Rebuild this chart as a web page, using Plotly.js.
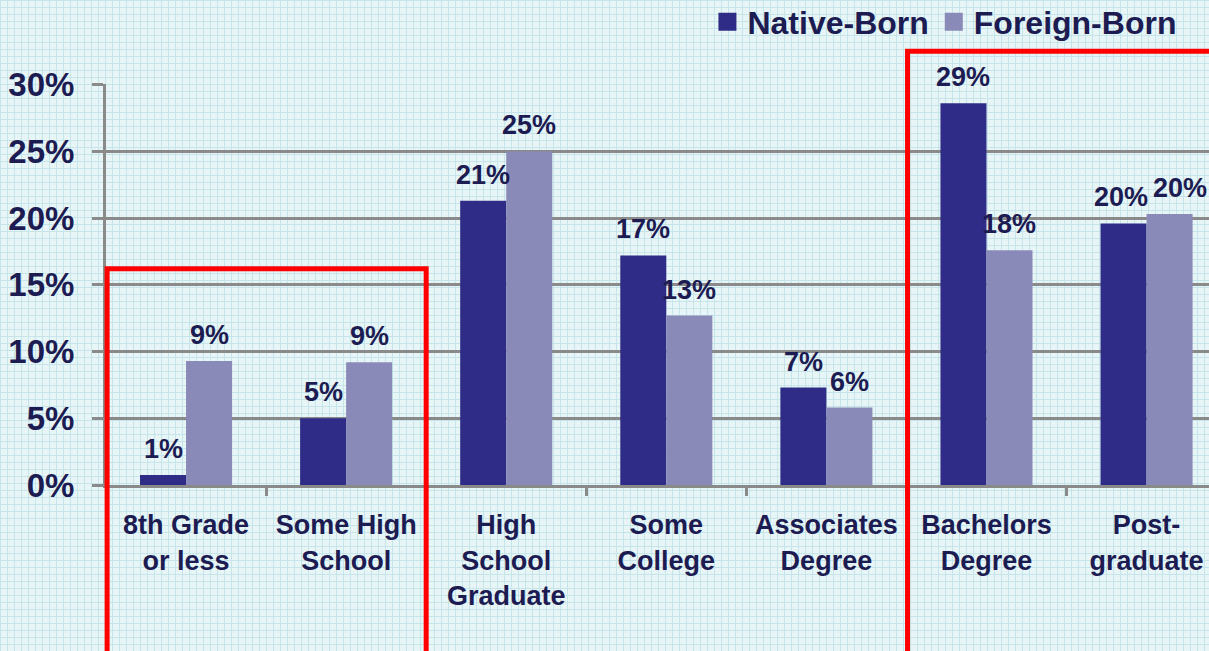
<!DOCTYPE html>
<html>
<head>
<meta charset="utf-8">
<script src="https://cdn.plot.ly/plotly-3.0.1.min.js"></script>
<style>
  html, body { margin:0; padding:0; }
  body {
    width:1209px; height:651px; overflow:hidden;
    background-color:#E7F5F7;
    background-image:
      linear-gradient(#C6E5EA 1px, transparent 1px),
      linear-gradient(90deg, #C6E5EA 1px, transparent 1px);
    background-size:7px 7px;
  }
  #chart { width:1209px; height:651px; }
</style>
</head>
<body>
<div id="chart"></div>
<script>
// ---- data ----
const categories = [
  "8th Grade<br>or less",
  "Some High<br>School",
  "High<br>School<br>Graduate",
  "Some<br>College",
  "Associates<br>Degree",
  "Bachelors<br>Degree",
  "Post-<br>graduate"
];
const nativeBorn  = [0.75, 5.0, 21.3, 17.2, 7.3, 28.6, 19.6];
const foreignBorn = [9.3, 9.2, 25.0, 12.7, 5.8, 17.6, 20.3];
const seriesNames = ["Native-Born", "Foreign-Born"];
const yTicks = [0, 5, 10, 15, 20, 25, 30];
// highlight boxes: category index span, top value (%)
const highlights = [
  {from: 0, to: 1, top: 16.2},
  {from: 5, to: 7, top: 32.5}
];

// ---- style ----
const NAVY = "#2E2C86";
const LAV = "#8A8AB8";
const TXT = "#1C1B52";
const GRAY = "#8A8A8A";
const FONT = "Arial, 'Liberation Sans', sans-serif";
const bargap = 0.425;
const xRange = [-0.5, 6.39];
const yRange = [0, 30.05];
const PLOT_H = 651 - 84 - 166;
const pxPerUnit = PLOT_H / (yRange[1] - yRange[0]);

const traces = [
  {type: "bar", name: seriesNames[0], x: categories, y: nativeBorn,
   marker: {color: NAVY}, hoverinfo: "none"},
  {type: "bar", name: seriesNames[1], x: categories, y: foreignBorn,
   marker: {color: LAV}, hoverinfo: "none"}
];

const off = (1 - bargap) / 4;
const annotations = [];
[nativeBorn, foreignBorn].forEach((arr, s) => {
  arr.forEach((v, i) => {
    const label = Math.round(v) + "%";
    const other = (s === 0 ? foreignBorn : nativeBorn)[i];
    const otherLabel = Math.round(other) + "%";
    // avoid collisions of two wide labels at nearly the same height
    const close = Math.abs(v - other) * pxPerUnit < 24 && label.length > 2 && otherLabel.length > 2;
    const push = close ? (s === 0 ? -3 : 10) : 0;
    annotations.push({
      x: i + (s === 0 ? -off : off), y: v, xref: "x", yref: "y",
      text: label, showarrow: false,
      yanchor: "middle", yshift: 26, xshift: push,
      font: {family: FONT, size: 27, color: TXT, weight: "bold"}
    });
  });
});

const xDom = c => (c - xRange[0]) / (xRange[1] - xRange[0]);
const yDom = v => (v - yRange[0]) / (yRange[1] - yRange[0]);
const shapes = highlights.map(h => ({
  type: "rect", xref: "x domain", yref: "y domain",
  x0: xDom(h.from - 0.5) + 0.001, x1: xDom(h.to + 0.5),
  y0: -1, y1: yDom(h.top),
  line: {color: "#FF0000", width: 5}, fillcolor: "rgba(0,0,0,0)",
  layer: "above"
}));

const layout = {
  width: 1209, height: 651,
  margin: {l: 106, r: 0, t: 84, b: 166, pad: 0, autoexpand: false},
  paper_bgcolor: "rgba(0,0,0,0)",
  plot_bgcolor: "rgba(0,0,0,0)",
  barmode: "group", bargap: bargap, bargroupgap: 0,
  font: {family: FONT, color: TXT, weight: "bold"},
  showlegend: true,
  legend: {
    orientation: "h", x: 0.975, xanchor: "right", y: 1.155, yanchor: "middle",
    font: {family: FONT, size: 32, color: TXT, weight: "bold"},
    bgcolor: "rgba(0,0,0,0)", itemclick: false, itemdoubleclick: false,
    traceorder: "normal", itemwidth: 30
  },
  xaxis: {
    type: "category", range: xRange, fixedrange: true, automargin: false,
    showline: true, linecolor: GRAY, linewidth: 3,
    ticks: "outside", tickson: "boundaries", ticklen: 8, tickwidth: 3, tickcolor: GRAY,
    showgrid: false,
    tickfont: {family: FONT, size: 27, color: TXT, weight: "bold"},
    ticklabelstandoff: 14
  },
  yaxis: {
    range: yRange, fixedrange: true, automargin: false,
    tickvals: yTicks, ticktext: yTicks.map(t => t + "%"),
    showline: true, linecolor: GRAY, linewidth: 3,
    ticks: "outside", ticklen: 11, tickwidth: 3, tickcolor: GRAY,
    showgrid: true, gridcolor: GRAY, gridwidth: 3, zeroline: false,
    tickfont: {family: FONT, size: 33, color: TXT, weight: "bold"},
    ticklabelstandoff: 11
  },
  annotations: annotations,
  shapes: shapes
};

Plotly.newPlot("chart", traces, layout, {displayModeBar: false, staticPlot: true}).then(() => {
  // enlarge the legend swatches (about the swatch centre) to match the reference
  document.querySelectorAll("#chart .legend .legendpoints path").forEach(p => {
    let b;
    try { b = p.getBBox(); } catch (e) { return; }
    if (!b || b.width < 1 || b.height < 1) return;
    const cx = b.x + b.width / 2, cy = b.y + b.height / 2;
    const prev = p.getAttribute("transform") || "";
    p.setAttribute("transform",
      prev + " translate(" + cx + "," + cy + ") scale(1.5) translate(" + (-cx) + "," + (-cy) + ")");
  });
});
</script>
</body>
</html>
